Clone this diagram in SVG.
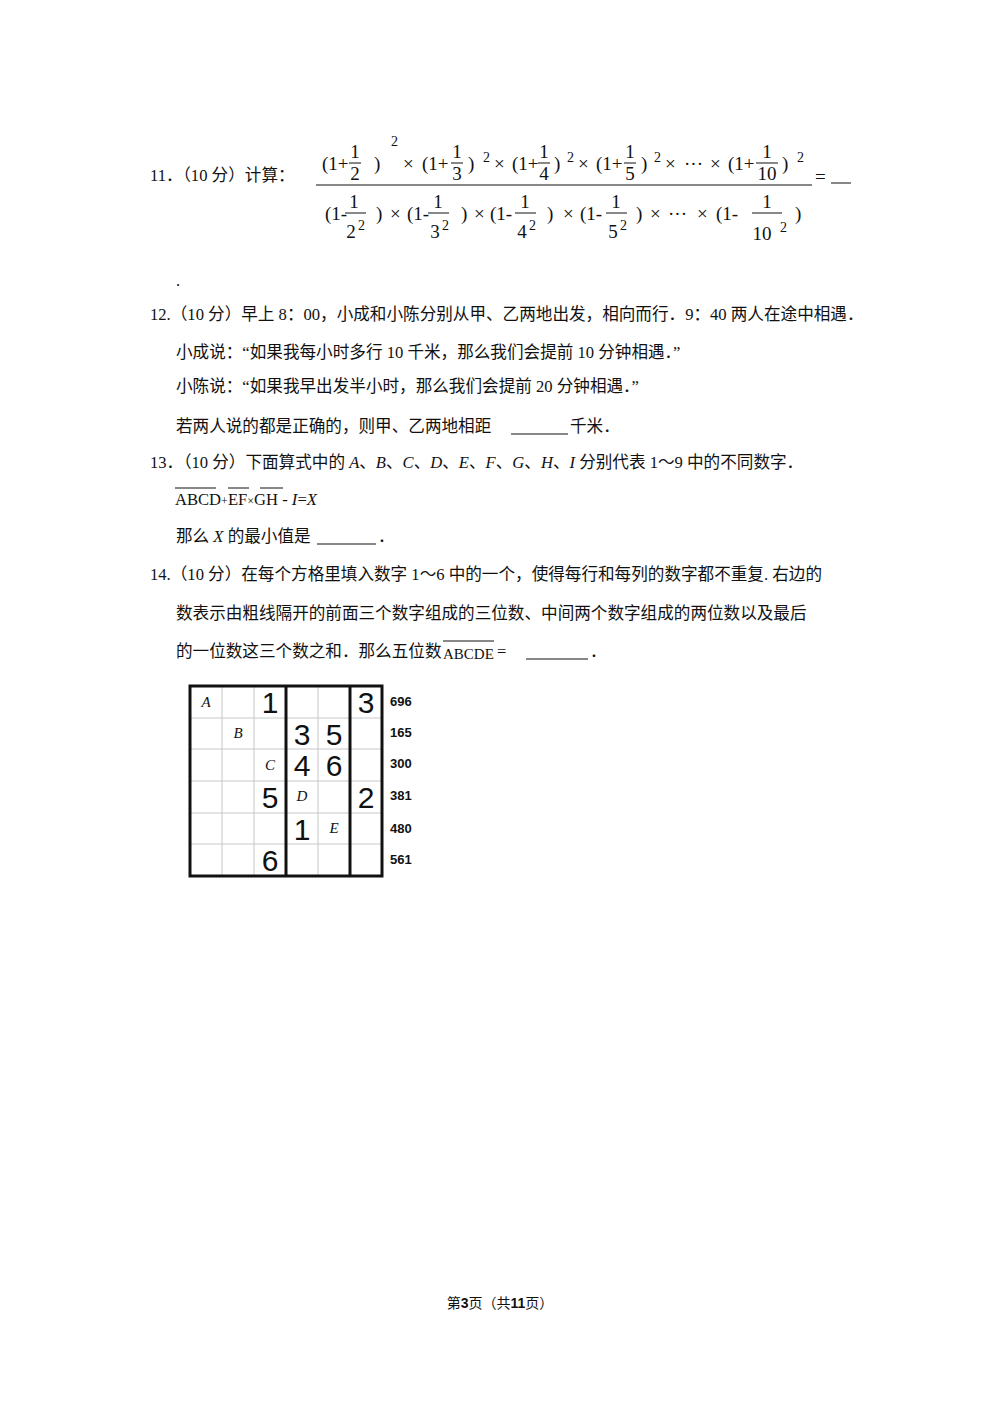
<svg xmlns="http://www.w3.org/2000/svg" width="1000" height="1415" viewBox="0 0 1000 1415">
<style>
text{font-family:"Liberation Serif","Noto Sans CJK SC",serif;fill:#111}
.t{font-size:16.6px}
.f{font-size:19px}
.s{font-size:14px}
.m{text-anchor:middle}
.g{font-family:"Liberation Sans",sans-serif;font-size:30px;text-anchor:middle}
.i{font-style:italic;font-size:15px;text-anchor:middle}
.r{font-family:"Liberation Sans",sans-serif;font-weight:bold;font-size:13px}
.thin{stroke:#c8c8c8;stroke-width:1}
.thick{stroke:#111;stroke-width:3;fill:none}
.b{stroke:#111;stroke-width:1}
</style>
<rect width="1000" height="1415" fill="#fff"/>
<g id="q11">
<text class="t" x="150" y="181">11．（10 分）计算：</text>
<g class="f">
<text x="322" y="170">(1+</text><text class="m" x="355" y="158">1</text><line class="b" x1="349" y1="163" x2="361" y2="163"/><text class="m" x="355" y="180">2</text><text x="374" y="170">)</text><text class="s" x="391" y="146">2</text>
<text x="403" y="170">×</text><text x="422" y="170">(1+</text><text class="m" x="457" y="158">1</text><line class="b" x1="451" y1="163" x2="463" y2="163"/><text class="m" x="457" y="180">3</text><text x="468" y="170">)</text><text class="s" x="483" y="162">2</text>
<text x="494" y="170">×</text><text x="512" y="170">(1+</text><text class="m" x="544" y="158">1</text><line class="b" x1="538" y1="163" x2="550" y2="163"/><text class="m" x="544" y="180">4</text><text x="554" y="170">)</text><text class="s" x="567" y="162">2</text>
<text x="578" y="170">×</text><text x="596" y="170">(1+</text><text class="m" x="630" y="158">1</text><line class="b" x1="624" y1="163" x2="636" y2="163"/><text class="m" x="630" y="180">5</text><text x="641" y="170">)</text><text class="s" x="654" y="162">2</text>
<text x="665" y="170">×</text><text x="684" y="170">···</text><text x="710" y="170">×</text><text x="728" y="170">(1+</text><text class="m" x="767" y="158">1</text><line class="b" x1="756" y1="163" x2="778" y2="163"/><text class="m" x="767" y="180">10</text><text x="782" y="170">)</text><text class="s" x="797" y="162">2</text>
<line class="b" x1="316" y1="185" x2="812" y2="185" stroke-width="1.2"/>
<text x="815" y="183">=</text><line class="b" x1="831" y1="183" x2="851" y2="183"/>
<text x="325" y="220">(1-</text><text class="m" x="354" y="208">1</text><line class="b" x1="345" y1="213" x2="366" y2="213"/><text class="m" x="351" y="238">2</text><text class="s" x="358" y="230">2</text><text x="376" y="220">)</text>
<text x="390" y="220">×</text><text x="407" y="220">(1-</text><text class="m" x="438" y="208">1</text><line class="b" x1="428" y1="213" x2="449" y2="213"/><text class="m" x="435" y="238">3</text><text class="s" x="442" y="230">2</text><text x="461" y="220">)</text>
<text x="474" y="220">×</text><text x="490" y="220">(1-</text><text class="m" x="525" y="208">1</text><line class="b" x1="515" y1="213" x2="536" y2="213"/><text class="m" x="522" y="238">4</text><text class="s" x="529" y="230">2</text><text x="547" y="220">)</text>
<text x="563" y="220">×</text><text x="580" y="220">(1-</text><text class="m" x="616" y="208">1</text><line class="b" x1="606" y1="213" x2="627" y2="213"/><text class="m" x="613" y="238">5</text><text class="s" x="620" y="230">2</text><text x="636" y="220">)</text>
<text x="650" y="220">×</text><text x="668" y="220">···</text><text x="697" y="220">×</text><text x="716" y="220">(1-</text><text class="m" x="767" y="208">1</text><line class="b" x1="752" y1="213" x2="782" y2="213"/><text class="m" x="762" y="240">10</text><text class="s" x="780" y="232">2</text><text x="795" y="220">)</text>
</g>
<text class="t" x="176" y="286">.</text>
</g>
<g id="q12" class="t">
<text x="150" y="320">12.（10 分）早上 8：00，小成和小陈分别从甲、乙两地出发，相向而行．9：40 两人在途中相遇．</text>
<text x="176" y="358">小成说：“如果我每小时多行 10 千米，那么我们会提前 10 分钟相遇．”</text>
<text x="176" y="392">小陈说：“如果我早出发半小时，那么我们会提前 20 分钟相遇．”</text>
<text x="176" y="432">若两人说的都是正确的，则甲、乙两地相距</text><line class="b" x1="511" y1="434" x2="568" y2="434"/><text x="570" y="432">千米．</text>
</g>
<g id="q13" class="t">
<text x="150" y="468">13．（10 分）下面算式中的 <tspan font-style="italic">A</tspan>、<tspan font-style="italic">B</tspan>、<tspan font-style="italic">C</tspan>、<tspan font-style="italic">D</tspan>、<tspan font-style="italic">E</tspan>、<tspan font-style="italic">F</tspan>、<tspan font-style="italic">G</tspan>、<tspan font-style="italic">H</tspan>、<tspan font-style="italic">I</tspan> 分别代表 1～9 中的不同数字．</text>
<text x="175" y="505">ABCD<tspan font-size="12">+</tspan>EF<tspan font-size="12">×</tspan>GH - <tspan font-style="italic">I</tspan>=<tspan font-style="italic">X</tspan></text>
<line class="b" x1="175" y1="488" x2="216" y2="488"/><line class="b" x1="228" y1="488" x2="249" y2="488"/><line class="b" x1="260" y1="488" x2="283" y2="488"/>
<text x="176" y="542">那么 <tspan font-style="italic">X</tspan> 的最小值是</text><line class="b" x1="317" y1="544" x2="376" y2="544"/><text x="378" y="542">．</text>
</g>
<g id="q14" class="t">
<text x="150" y="580">14.（10 分）在每个方格里填入数字 1～6 中的一个，使得每行和每列的数字都不重复. 右边的</text>
<text x="176" y="619">数表示由粗线隔开的前面三个数字组成的三位数、中间两个数字组成的两位数以及最后</text>
<text x="176" y="657">的一位数这三个数之和．那么五位数</text><text x="443" y="659" font-size="15">ABCDE</text><line class="b" x1="443" y1="641" x2="494" y2="641"/><text x="497" y="657">=</text><line class="b" x1="526" y1="659" x2="588" y2="659"/><text x="590" y="657">．</text>
</g>
<g id="grid">
<g class="thin">
<line x1="222" y1="686" x2="222" y2="876"/><line x1="254" y1="686" x2="254" y2="876"/><line x1="318" y1="686" x2="318" y2="876"/>
<line x1="190" y1="718" x2="382" y2="718"/><line x1="190" y1="749" x2="382" y2="749"/><line x1="190" y1="781" x2="382" y2="781"/><line x1="190" y1="813" x2="382" y2="813"/><line x1="190" y1="844" x2="382" y2="844"/>
</g>
<rect class="thick" x="190" y="686" width="192" height="190"/>
<line class="thick" x1="286" y1="686" x2="286" y2="876"/><line class="thick" x1="350" y1="686" x2="350" y2="876"/>
<text class="i" x="206" y="707">A</text><text class="i" x="238" y="738">B</text><text class="i" x="270" y="770">C</text><text class="i" x="302" y="801">D</text><text class="i" x="334" y="833">E</text>
<text class="g" x="270" y="713">1</text><text class="g" x="366" y="713">3</text>
<text class="g" x="302" y="745">3</text><text class="g" x="334" y="745">5</text>
<text class="g" x="302" y="776">4</text><text class="g" x="334" y="776">6</text>
<text class="g" x="270" y="808">5</text><text class="g" x="366" y="808">2</text>
<text class="g" x="302" y="840">1</text><text class="g" x="270" y="871">6</text>
<text class="r" x="390" y="706">696</text><text class="r" x="390" y="737">165</text><text class="r" x="390" y="768">300</text><text class="r" x="390" y="800">381</text><text class="r" x="390" y="833">480</text><text class="r" x="390" y="864">561</text>
</g>
<text id="footer" x="500" y="1308" style="font-size:14px;text-anchor:middle">第<tspan font-weight="bold" font-family="Liberation Sans">3</tspan>页（共<tspan font-weight="bold" font-family="Liberation Sans">11</tspan>页）</text>
</svg>
